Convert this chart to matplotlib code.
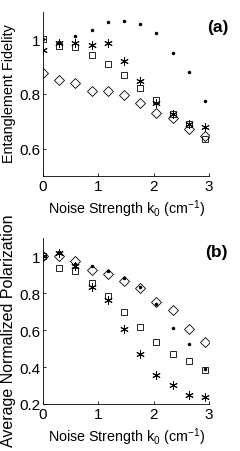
import matplotlib
matplotlib.use("Agg")
import matplotlib.pyplot as plt

plt.rcParams["font.family"] = ["Liberation Sans", "DejaVu Sans"]
plt.rcParams["mathtext.fontset"] = "custom"
plt.rcParams["mathtext.rm"] = "Liberation Sans"
plt.rcParams["mathtext.it"] = "Liberation Sans"
plt.rcParams["mathtext.bf"] = "Liberation Sans:bold"

k0 = [0, 0.293, 0.586, 0.879, 1.172, 1.465, 1.758, 2.051, 2.344, 2.637, 2.93]

# (a) entanglement fidelity
fid_dot = [1.0, 0.99, 1.012, 1.033, 1.065, 1.068, 1.056, 1.024, 0.949, 0.882, 0.773]
fid_square = [1.0, 0.976, 0.972, 0.943, 0.909, 0.868, 0.823, 0.777, 0.727, 0.691, 0.635]
fid_star = [0.96, 0.988, 0.988, 0.981, 0.987, 0.919, 0.846, 0.767, 0.727, 0.691, 0.681]
fid_diamond = [0.876, 0.852, 0.842, 0.812, 0.811, 0.796, 0.768, 0.731, 0.712, 0.673, 0.648]

# (b) average normalized polarization
pol_diamond = [1.0, 1.003, 0.973, 0.928, 0.904, 0.866, 0.828, 0.754, 0.709, 0.604, 0.534]
pol_dot = [1.0, 1.025, 0.958, 0.946, 0.92, 0.884, 0.837, 0.742, 0.613, 0.528, 0.389]
pol_square = [1.0, 0.94, 0.922, 0.857, 0.783, 0.70, 0.615, 0.537, 0.472, 0.431, 0.384]
pol_star = [1.0, 1.02, 0.95, 0.832, 0.762, 0.604, 0.47, 0.357, 0.303, 0.25, 0.239]

TICK_FS = 11
XLAB_FS = 10.3

fig = plt.figure(figsize=(2.40, 4.52), dpi=100)
W, H = 240.0, 452.0
ax1 = fig.add_axes([43 / W, 1 - 177 / H, 166 / W, 164 / H])
ax2 = fig.add_axes([43 / W, 1 - 405 / H, 166 / W, 166 / H])


def style(ax, ylim, yticks, label, label_fs, label_y, tag, tag_y):
    ax.set_xlim(0, 3)
    ax.set_ylim(*ylim)
    ax.set_xticks([0, 1, 2, 3])
    ax.set_yticks(yticks)
    ax.set_yticklabels([f"{t:g}" for t in yticks])
    ax.spines["top"].set_visible(False)
    ax.spines["right"].set_visible(False)
    ax.spines["left"].set_linewidth(0.6)
    ax.spines["bottom"].set_linewidth(0.6)
    ax.tick_params(direction="in", length=2, width=0.6, labelsize=TICK_FS, pad=2)
    ax.set_xlabel(r"Noise Strength k$_0$ (cm$^{-1}$)", fontsize=XLAB_FS, labelpad=3)
    ax.set_ylabel(label, fontsize=label_fs)
    ax.yaxis.set_label_coords(-0.163, label_y)
    ax.text(1.115, tag_y, tag, transform=ax.transAxes, fontsize=12.5,
            fontweight="bold", ha="right", va="center")


def points(ax, dot, square, star, diamond):
    ax.plot(k0, diamond, linestyle="none", marker="D", markersize=5,
            mfc="none", mec="black", mew=0.6)
    ax.plot(k0, square, linestyle="none", marker="s", markersize=5,
            mfc="none", mec="black", mew=0.6)
    ax.plot(k0, star, linestyle="none", marker=(6, 2, 0), markersize=6,
            color="black", mew=0.7)
    ax.plot(k0, dot, linestyle="none", marker=".", markersize=3, color="black")


points(ax1, fid_dot, fid_square, fid_star, fid_diamond)
style(ax1, (0.5, 1.1), [0.6, 0.8, 1.0], "Entanglement Fidelity", 10.4, 0.506,
      "(a)", 0.91)

points(ax2, pol_dot, pol_square, pol_star, pol_diamond)
style(ax2, (0.2, 1.1), [0.2, 0.4, 0.6, 0.8, 1.0], "Average Normalized Polarization",
      11.5, 0.45, "(b)", 0.92)

fig.savefig("out.png", dpi=100)
